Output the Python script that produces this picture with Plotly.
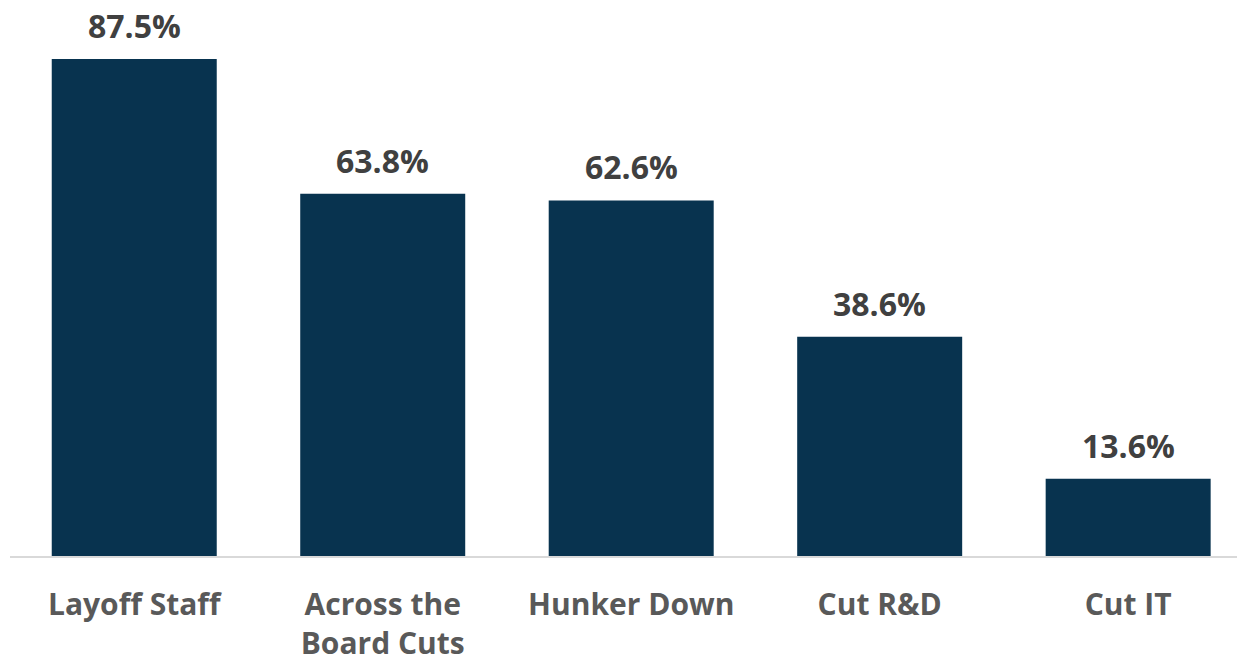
import plotly.graph_objects as go

categories = ["Layoff Staff", "Across the<br>Board Cuts", "Hunker Down", "Cut R&D", "Cut IT"]
values = [87.5, 63.8, 62.6, 38.6, 13.6]

BAR_COLOR = "#08334f"
FONT = "Open Sans"

fig = go.Figure(
    go.Bar(
        x=categories,
        y=values,
        marker=dict(color=BAR_COLOR, line=dict(width=0)),
        hoverinfo="skip",
    )
)

# value labels above each bar
for cat, val in zip(categories, values):
    fig.add_annotation(
        x=cat, y=val, xref="x", yref="y",
        text=f"<b>{val:.1f}%</b>",
        showarrow=False,
        yanchor="bottom",
        yshift=10,
        font=dict(family=FONT, size=32, color="#404040"),
    )

fig.update_layout(
    width=1237,
    height=663,
    margin=dict(l=10, r=0, t=0, b=107, autoexpand=False),
    plot_bgcolor="white",
    paper_bgcolor="white",
    bargap=0.336,
    showlegend=False,
    font=dict(family=FONT),
)

fig.update_xaxes(
    range=[-0.5, 4.438],
    automargin=False,
    showline=True,
    linecolor="#d9d9d9",
    linewidth=2,
    showgrid=False,
    ticks="",
    ticklabelstandoff=21,
    tickfont=dict(family=FONT, size=30, color="#595959", weight="bold"),
)
fig.update_yaxes(
    range=[0, 97.9],
    visible=False,
    showgrid=False,
    zeroline=False,
)

fig.write_html("out.html")
